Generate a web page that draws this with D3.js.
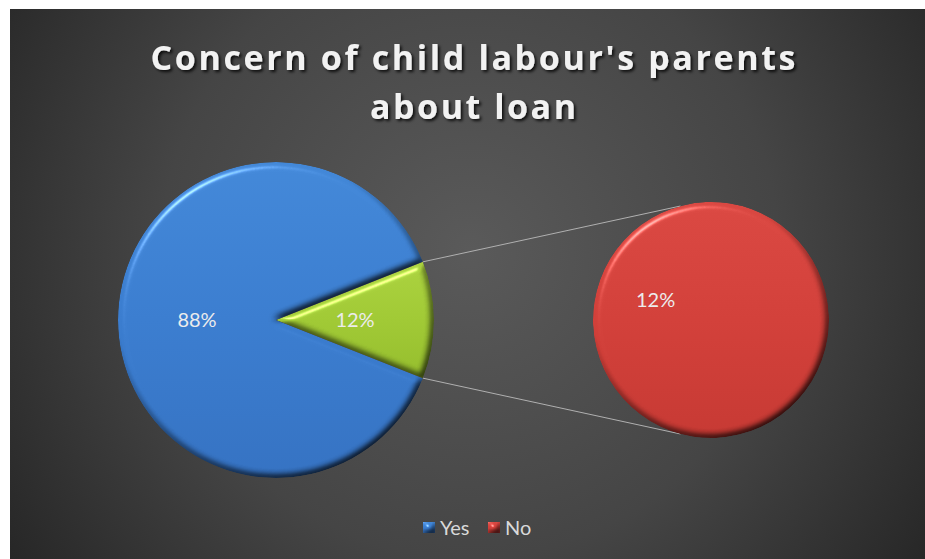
<!DOCTYPE html>
<html>
<head>
<meta charset="utf-8">
<script src="https://cdn.jsdelivr.net/npm/d3@7"></script>
<style>
  html, body { margin: 0; padding: 0; background: #ffffff; }
  svg { display: block; }
  text { font-family: Lato, "Open Sans", sans-serif; }
  text.title { font-family: "Open Sans", Lato, sans-serif; }
</style>
</head>
<body>
<div id="chart"></div>
<script>
// ---- data ----
const categories = ["Yes", "No"];
const values = [88, 12];
const valueLabels = ["88%", "12%"];
const splitCategories = ["No"];          // shown in the secondary pie
const otherLabel = "12%";                 // label of the aggregated slice
const titleLines = ["Concern of child labour's parents", "about loan"];

// ---- layout ----
const W = 925, H = 559;
const frame = { x: 10, y: 9, w: W - 10, h: H - 9 };
const main = { cx: 276, cy: 320, r: 158 };
const second = { cx: 711, cy: 320, r: 118 };

const colors = { Yes: "#3b7dcf", Other: "#a0c935", No: "#d2403a" };
const colorsLight = { Yes: "#4388d8", Other: "#abd23f", No: "#da4842" };
const colorsDark = { Yes: "#3572c2", Other: "#95bd2d", No: "#c63933" };

const svg = d3.select("#chart").append("svg")
  .attr("width", W).attr("height", H);
const defs = svg.append("defs");

// background gradient
const bg = defs.append("radialGradient").attr("id", "bg")
  .attr("gradientUnits", "userSpaceOnUse")
  .attr("cx", 470).attr("cy", 250).attr("r", 560);
bg.append("stop").attr("offset", "0%").attr("stop-color", "#5a5a5a");
bg.append("stop").attr("offset", "55%").attr("stop-color", "#454545");
bg.append("stop").attr("offset", "100%").attr("stop-color", "#262626");

// slice gradients
Object.keys(colors).forEach(k => {
  const g = defs.append("linearGradient").attr("id", "g" + k)
    .attr("x1", 0).attr("y1", 0).attr("x2", 0).attr("y2", 1);
  g.append("stop").attr("offset", "0%").attr("stop-color", colorsLight[k]);
  g.append("stop").attr("offset", "50%").attr("stop-color", colors[k]);
  g.append("stop").attr("offset", "100%").attr("stop-color", colorsDark[k]);
});

// bevel: diffuse shading multiplied in, specular highlight added
const bevel = defs.append("filter").attr("id", "bevel")
  .attr("color-interpolation-filters", "sRGB")
  .attr("x", "-10%").attr("y", "-10%").attr("width", "120%").attr("height", "120%");
bevel.append("feGaussianBlur").attr("in", "SourceAlpha").attr("stdDeviation", 3.5).attr("result", "blur");
const dif = bevel.append("feDiffuseLighting").attr("in", "blur")
  .attr("surfaceScale", 4).attr("diffuseConstant", 1 / Math.sin(55 * Math.PI / 180))
  .attr("lighting-color", "#ffffff").attr("result", "dif");
dif.append("feDistantLight").attr("azimuth", 235).attr("elevation", 55);
const spec = bevel.append("feSpecularLighting").attr("in", "blur")
  .attr("surfaceScale", 4).attr("specularConstant", 0.55).attr("specularExponent", 60)
  .attr("lighting-color", "#ffffff").attr("result", "spec");
spec.append("feDistantLight").attr("azimuth", 235).attr("elevation", 45);
bevel.append("feComposite").attr("in", "SourceGraphic").attr("in2", "dif")
  .attr("operator", "arithmetic").attr("k1", 1).attr("k2", 0).attr("k3", 0).attr("k4", 0).attr("result", "shaded");
bevel.append("feComposite").attr("in", "spec").attr("in2", "SourceAlpha")
  .attr("operator", "in").attr("result", "specIn");
bevel.append("feComposite").attr("in", "shaded").attr("in2", "specIn")
  .attr("operator", "arithmetic").attr("k1", 0).attr("k2", 1).attr("k3", 0.8).attr("k4", 0).attr("result", "lit");
bevel.append("feComposite").attr("in", "lit").attr("in2", "SourceAlpha").attr("operator", "in");

// title shadow
const ts = defs.append("filter").attr("id", "tshadow")
  .attr("x", "-5%").attr("y", "-30%").attr("width", "110%").attr("height", "160%");
ts.append("feDropShadow").attr("dx", 2).attr("dy", 2).attr("stdDeviation", 1.5)
  .attr("flood-color", "#000").attr("flood-opacity", 0.8);

// background
svg.append("rect").attr("x", frame.x).attr("y", frame.y)
  .attr("width", frame.w).attr("height", frame.h).attr("fill", "url(#bg)");

// ---- title ----
const titleWidths = [645, 206];
const titleBase = [70, 119];
svg.append("g").attr("filter", "url(#tshadow)")
  .selectAll("text").data(titleLines).join("text")
  .attr("class", "title")
  .attr("x", 473).attr("y", (d, i) => titleBase[i])
  .attr("text-anchor", "middle")
  .attr("font-size", 34).attr("font-weight", 700)
  .attr("fill", "#f2f2f2")
  .attr("textLength", (d, i) => titleWidths[i])
  .attr("lengthAdjust", "spacing")
  .text(d => d);

// ---- pies ----
const total = d3.sum(values);
const splitTotal = d3.sum(categories.map((c, i) => splitCategories.includes(c) ? values[i] : 0));
const mainData = [{ key: "Other", value: splitTotal, label: otherLabel }]
  .concat(categories.map((c, i) => ({ key: c, value: values[i], label: valueLabels[i] }))
    .filter(d => !splitCategories.includes(d.key)));
const secondData = categories.map((c, i) => ({ key: c, value: values[i], label: valueLabels[i] }))
  .filter(d => splitCategories.includes(d.key));

const half = Math.PI * splitTotal / total;
const mainStart = Math.PI / 2 - half;
const mainPie = d3.pie().sort(null).value(d => d.value)
  .startAngle(mainStart).endAngle(mainStart + 2 * Math.PI);
const mainArcs = mainPie(mainData);
const mainArc = d3.arc().innerRadius(0).outerRadius(main.r);

const secondStart = 110 * Math.PI / 180;
const secondPie = d3.pie().sort(null).value(d => d.value)
  .startAngle(secondStart).endAngle(secondStart + 2 * Math.PI);
const secondArcs = secondPie(secondData);
const secondArc = d3.arc().innerRadius(0).outerRadius(second.r);

// connector lines between the aggregated slice and the secondary pie
const other = mainArcs[0];
const pt = (c, r, a) => [c.cx + r * Math.sin(a), c.cy - r * Math.cos(a)];
const connAngle = 15 * Math.PI / 180;
const connectors = [
  [pt(main, main.r, other.startAngle), pt(second, second.r, -connAngle)],
  [pt(main, main.r, other.endAngle), pt(second, second.r, Math.PI + connAngle)]
];
svg.append("g").selectAll("line").data(connectors).join("line")
  .attr("x1", d => d[0][0]).attr("y1", d => d[0][1])
  .attr("x2", d => d[1][0]).attr("y2", d => d[1][1])
  .attr("stroke", "#b0b0b0").attr("stroke-width", 1);

const gMain = svg.append("g").attr("transform", `translate(${main.cx},${main.cy})`);
gMain.selectAll("path").data(mainArcs).join("path")
  .attr("d", mainArc)
  .attr("fill", d => `url(#g${d.data.key})`)
  .attr("filter", "url(#bevel)");

const gSecond = svg.append("g").attr("transform", `translate(${second.cx},${second.cy})`);
gSecond.selectAll("path").data(secondArcs).join("path")
  .attr("d", secondArc)
  .attr("fill", d => `url(#g${d.data.key})`)
  .attr("filter", "url(#bevel)");

// value labels
const labelArcMain = d3.arc().innerRadius(0).outerRadius(main.r);
gMain.selectAll("text").data(mainArcs).join("text")
  .attr("transform", d => `translate(${labelArcMain.centroid(d)})`)
  .attr("text-anchor", "middle").attr("dy", "0.35em")
  .attr("font-size", 20).attr("fill", "#ececec")
  .text(d => d.data.label);
gSecond.selectAll("text").data(secondArcs).join("text")
  .attr("transform", d => `translate(${secondArc.centroid(d)})`)
  .attr("text-anchor", "middle").attr("dy", "0.35em")
  .attr("font-size", 20).attr("fill", "#ececec")
  .text(d => d.data.label);

// ---- legend ----
const legendItems = [
  { key: "Yes", x: 423 },
  { key: "No", x: 488 }
];
const lg = svg.append("g").attr("transform", "translate(0,528)");
const li = lg.selectAll("g").data(legendItems).join("g")
  .attr("transform", d => `translate(${d.x},0)`);
li.append("rect").attr("x", 0).attr("y", -6).attr("width", 12).attr("height", 11)
  .attr("fill", d => `url(#g${d.key})`).attr("filter", "url(#bevel)");
li.append("text").attr("x", 17).attr("dy", "0.35em")
  .attr("font-size", 20).attr("fill", "#d9d9d9")
  .text(d => d.key);
</script>
</body>
</html>
